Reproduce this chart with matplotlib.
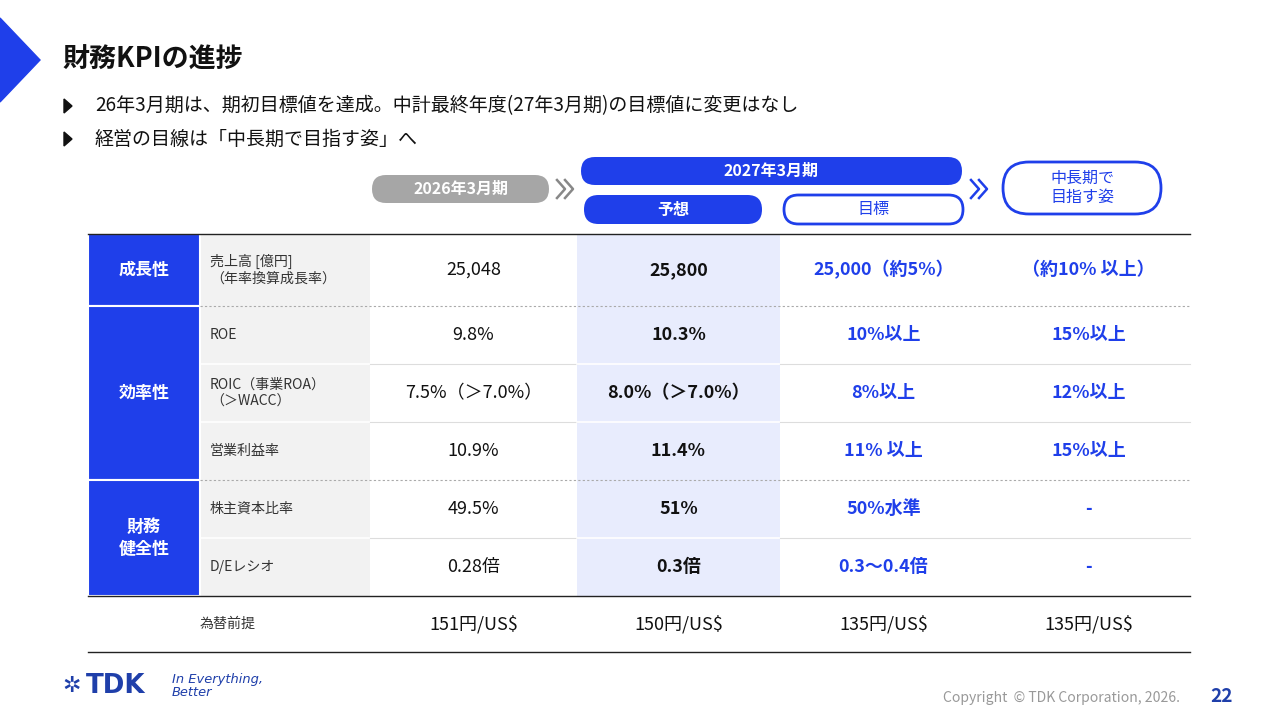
import matplotlib
matplotlib.use("Agg")
import matplotlib.pyplot as plt
from matplotlib.patches import Rectangle, FancyBboxPatch, Polygon

plt.rcParams['font.family'] = ['Noto Sans CJK JP', 'DejaVu Sans']

BLUE = '#1F3FEA'
title = '財務KPIの進捗'
bullets = ['26年3月期は、期初目標値を達成。中計最終年度(27年3月期)の目標値に変更はなし',
           '経営の目線は「中長期で目指す姿」へ']
categories = ['成長性', '効率性', '財務\n健全性']
cat_spans = [(0, 1), (1, 4), (4, 6)]
row_labels = ['売上高 [億円]\n（年率換算成長率）', 'ROE', 'ROIC（事業ROA）\n（＞WACC）',
              '営業利益率', '株主資本比率', 'D/Eレシオ']
actual_2026 = ['25,048', '9.8%', '7.5%（＞7.0%）', '10.9%', '49.5%', '0.28倍']
forecast_2027 = ['25,800', '10.3%', '8.0%（＞7.0%）', '11.4%', '51%', '0.3倍']
target_2027 = ['25,000（約5%）', '10%以上', '8%以上', '11% 以上', '50%水準', '0.3〜0.4倍']
long_term = ['（約10% 以上）', '15%以上', '12%以上', '15%以上', '-', '-']
fx_label = '為替前提'
fx_values = ['151円/US$', '150円/US$', '135円/US$', '135円/US$']

fig = plt.figure(figsize=(12.8, 7.2), dpi=100)
ax = fig.add_axes([0, 0, 1, 1])
ax.set_xlim(0, 1280); ax.set_ylim(720, 0); ax.axis('off')

def pt(px): return px * 0.72

# header decorations
ax.add_patch(Polygon([(0, 18), (40, 60), (0, 102)], color=BLUE))
ax.text(62, 60, title, fontsize=pt(27), fontweight='bold', va='center', color='#111')
for i, b in enumerate(bullets):
    y = 106 + 33 * i
    ax.add_patch(Polygon([(64, y - 7), (72, y), (64, y + 7)], color='#111'))
    ax.text(95, y, b, fontsize=pt(19), va='center', color='#111')

# column headers
def pill(x0, x1, y0, y1, fc, ec, txt, tc, r=None, lw=1.5):
    h = y1 - y0
    r = h / 2 if r is None else r
    ax.add_patch(FancyBboxPatch((x0 + r, y0), x1 - x0 - 2 * r, h,
                                boxstyle=f'round,pad=0,rounding_size={r}',
                                mutation_aspect=1, fc=fc, ec=ec, lw=lw))
    ax.add_patch(FancyBboxPatch((x0, y0), x1 - x0, h, boxstyle=f'round,pad=0,rounding_size={r}',
                                fc=fc, ec=ec, lw=lw))
    ax.text((x0 + x1) / 2, (y0 + y1) / 2, txt, fontsize=pt(16), color=tc,
            ha='center', va='center', fontweight='bold' if tc == 'white' else 'normal',
            linespacing=1.2)

def simple_pill(x0, x1, y0, y1, fc, ec, txt, tc, lw=1.5, bold=None, fs=16):
    h = y1 - y0
    ax.add_patch(FancyBboxPatch((x0, y0), x1 - x0, h,
                                boxstyle=f'round,pad=0,rounding_size={h/2}', fc=fc, ec=ec, lw=lw))
    ax.text((x0 + x1) / 2, (y0 + y1) / 2, txt, fontsize=pt(fs), color=tc, ha='center',
            va='center', fontweight='bold' if bold else 'normal', linespacing=1.2)

simple_pill(372, 549, 175, 203, '#A6A6A6', 'none', '2026年3月期', 'white', bold=True)
simple_pill(581, 962, 157, 185, BLUE, 'none', '2027年3月期', 'white', bold=True)
simple_pill(584, 762, 195, 224, BLUE, 'none', '予想', 'white', bold=True)
simple_pill(784, 963, 195, 224, 'white', BLUE, '目標', BLUE, lw=2)
simple_pill(1003, 1161, 162, 214, 'white', BLUE, '中長期で\n目指す姿', BLUE, lw=2)
for xc in (566, 980):
    for dx in (-4, 4):
        ax.plot([xc + dx - 5, xc + dx + 3, xc + dx - 5], [180, 189, 198], color='#888' if xc == 566 else BLUE, lw=1.8)

# table
row_y = [234, 306, 364, 422, 480, 538, 596]
col_x = [88, 200, 370, 577, 780, 987, 1190]
ax.add_patch(Rectangle((col_x[1], row_y[0]), col_x[2] - col_x[1], row_y[-1] - row_y[0], fc='#F2F2F2', ec='none'))
ax.add_patch(Rectangle((col_x[3], row_y[0]), col_x[4] - col_x[3], row_y[-1] - row_y[0], fc='#E8ECFD', ec='none'))
for (a, b), c in zip(cat_spans, categories):
    ax.add_patch(Rectangle((col_x[0], row_y[a]), col_x[1] - col_x[0], row_y[b] - row_y[a], fc=BLUE, ec='white', lw=1.5))
    ax.text((col_x[0] + col_x[1]) / 2, (row_y[a] + row_y[b]) / 2, c, color='white', fontsize=pt(17),
            fontweight='bold', ha='center', va='center', linespacing=1.3)
for i in range(1, 6):
    y = row_y[i]
    if i in (1, 4):
        ax.plot([col_x[0] + 112, col_x[-1]], [y, y], color='#AAAAAA', lw=0.8, ls=(0, (2, 2)))
    else:
        ax.plot([col_x[1], col_x[2]], [y, y], color='white', lw=1.2)
        ax.plot([col_x[2], col_x[3]], [y, y], color='#DDDDDD', lw=0.8)
        ax.plot([col_x[3], col_x[4]], [y, y], color='white', lw=1.2)
        ax.plot([col_x[4], col_x[6]], [y, y], color='#DDDDDD', lw=0.8)
ax.plot([col_x[0], col_x[-1]], [row_y[0], row_y[0]], color='#222', lw=1)
ax.plot([col_x[0], col_x[-1]], [row_y[-1], row_y[-1]], color='#222', lw=1)
ax.plot([col_x[0], col_x[-1]], [652, 652], color='#222', lw=1)

centers = [(col_x[k] + col_x[k + 1]) / 2 for k in range(2, 6)]
for i in range(6):
    yc = (row_y[i] + row_y[i + 1]) / 2
    ax.text(210, yc, row_labels[i], fontsize=pt(14), color='#333', va='center', ha='left', linespacing=1.25)
    ax.text(centers[0], yc, actual_2026[i], fontsize=pt(18), color='#111', ha='center', va='center')
    ax.text(centers[1], yc, forecast_2027[i], fontsize=pt(18), color='#111', ha='center', va='center', fontweight='bold')
    ax.text(centers[2], yc, target_2027[i], fontsize=pt(18), color=BLUE, ha='center', va='center', fontweight='bold')
    ax.text(centers[3], yc, long_term[i], fontsize=pt(18), color=BLUE, ha='center', va='center', fontweight='bold')
yf = (row_y[-1] + 652) / 2
ax.text(228, yf, fx_label, fontsize=pt(14), color='#333', ha='center', va='center')
for c, v in zip(centers, fx_values):
    ax.text(c, yf, v, fontsize=pt(18), color='#111', ha='center', va='center')

# footer
ax.text(62, 686, '✲', fontsize=pt(22), color='#1F3FAA', va='center', ha='left', family=['DejaVu Sans'])
ax.text(86, 686, 'TDK', fontsize=pt(26), color='#1F3FAA', fontweight='bold', va='center', ha='left', family=['DejaVu Sans'])
ax.text(172, 686, 'In Everything,\nBetter', fontsize=pt(13), color='#1F3FAA', style='italic',
        va='center', ha='left', linespacing=0.9, family=['DejaVu Sans'])
ax.text(1180, 698, 'Copyright  © TDK Corporation, 2026.', fontsize=pt(14), color='#999', ha='right', va='center')
ax.text(1222, 696, '22', fontsize=pt(19), color='#1F3FAA', fontweight='bold', ha='center', va='center')

fig.savefig('out.png', dpi=100)
